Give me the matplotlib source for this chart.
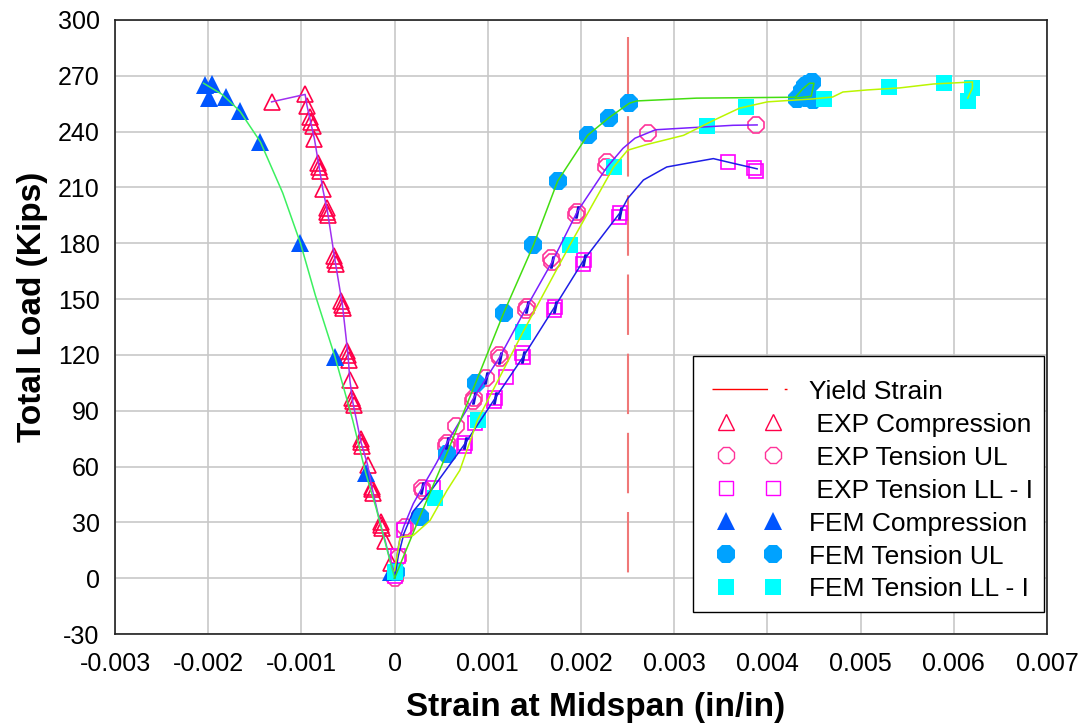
import matplotlib
matplotlib.use("Agg")
import matplotlib.pyplot as plt
from matplotlib.legend_handler import HandlerLine2D
from matplotlib.lines import Line2D

plt.rcParams['font.family'] = ['Liberation Sans', 'DejaVu Sans']
plt.rcParams['axes.unicode_minus'] = False

# ---------------- data (strain in/in, load kips) ----------------
# Experimental compression (markers + purple line in load order)
exp_comp_x = [0.0, -0.00004, -0.0001, -0.00015, -0.00024, -0.00029, -0.00036, -0.00045,
              -0.00048, -0.0005, -0.00056, -0.00064, -0.00072, -0.00077, -0.00081,
              -0.00086, -0.0009, -0.00094, -0.00096, -0.00132]
exp_comp_y = [3.3, 8, 20, 28.6, 48, 61, 73, 95, 106.5, 120, 147, 171, 197, 209, 221,
              236, 245, 254, 260, 256]
exp_comp_rep_x = [-0.00088, -0.00091, -0.00080, -0.00082, -0.00071, -0.00073, -0.00063,
                  -0.00065, -0.00055, -0.00057, -0.00049, -0.00051, -0.00044, -0.00046,
                  -0.00035, -0.00036, -0.00023, -0.00024, -0.00014, -0.00015]
exp_comp_rep_y = [243, 248, 219, 223, 195, 199, 169, 173, 145, 149, 117, 122, 93, 97,
                  71, 75, 46, 49, 27, 30]

# Experimental tension UL
exp_ul_x = [0.0, 0.00004, 0.00011, 0.00029, 0.00056, 0.00066, 0.00085, 0.00098, 0.00113,
            0.00142, 0.00169, 0.00196, 0.00228, 0.00272, 0.00388]
exp_ul_y = [0, 11, 27.5, 48.5, 72.6, 82, 96.8, 107.5, 118.4, 146, 170, 197, 223.7, 239, 243.6]
exp_ul_rep_x = [0.0003, 0.00055, 0.00084, 0.00112, 0.00141, 0.00168, 0.00195, 0.00227]
exp_ul_rep_y = [47, 71, 95, 120, 144, 172, 195, 221]
exp_ul_line_x = [0.0, 0.00003, 0.00006, 0.0001, 0.0002, 0.0003, 0.00045, 0.00056, 0.00085,
                 0.00113, 0.00142, 0.00169, 0.00196, 0.00228, 0.00245, 0.00258, 0.0028,
                 0.00314, 0.00363, 0.00389]
exp_ul_line_y = [0, 14, 22, 28, 40, 49, 62, 72.6, 97, 119, 146, 170, 197, 221, 231, 236.5,
                 241, 242, 243.4, 243.6]

# Experimental tension LL - I
exp_ll_x = [0.0, 0.00004, 0.0001, 0.00041, 0.00076, 0.00086, 0.00108, 0.0012, 0.00138,
            0.00172, 0.00203, 0.00242, 0.00358, 0.00386]
exp_ll_y = [1, 12, 26, 48.4, 72.6, 83.3, 96.8, 108, 119, 146, 171, 196.5, 223.6, 220.5]
exp_ll_rep_x = [0.00075, 0.00107, 0.00137, 0.00171, 0.00202, 0.00241, 0.00388]
exp_ll_rep_y = [71, 95, 121, 144, 169, 194, 219]
exp_ll_line_x = [0.0, 0.00004, 0.0001, 0.0002, 0.00041, 0.00076, 0.00108, 0.00138, 0.00172,
                 0.00203, 0.00242, 0.0025, 0.00267, 0.00292, 0.00314, 0.00342, 0.00358,
                 0.00389]
exp_ll_line_y = [0, 12, 24, 36, 48.4, 72.6, 96.8, 119, 146, 171, 196.5, 204, 214, 221, 223,
                 225.5, 223.6, 220]

# blue "I" marks on experimental tension points
exp_i_x = [0.00029, 0.00056, 0.00085, 0.00098, 0.00113, 0.00142, 0.00169, 0.00196,
           0.00076, 0.00108, 0.00138, 0.00172, 0.00203, 0.00242]
exp_i_y = [48.5, 72.6, 97, 107.5, 118.4, 146, 170, 197, 72.6, 96.8, 119, 146, 171, 196.5]

# FEM compression
fem_comp_x = [-0.00004, -0.00031, -0.00064, -0.00101, -0.00144, -0.00166, -0.00181,
              -0.00199, -0.00203, -0.00196]
fem_comp_y = [3.3, 56.5, 119, 180, 234.5, 251, 258.6, 258, 265, 265.5]
fem_comp_line_x = [0.0, -0.0002, -0.00031, -0.00045, -0.00064, -0.00085, -0.00101, -0.0012,
                   -0.00144, -0.00166, -0.00185, -0.00205]
fem_comp_line_y = [0, 38, 56.5, 85, 119, 152, 180, 207, 234.5, 251, 260, 266]

# FEM tension UL
fem_ul_x = [0.00001, 0.00027, 0.00056, 0.00087, 0.00117, 0.00149, 0.00175, 0.00207, 0.0023,
            0.00252, 0.00432, 0.00437, 0.0044, 0.00444, 0.00448, 0.00442, 0.00449]
fem_ul_y = [3.3, 33, 67, 105, 142.5, 179, 213.5, 238, 247.5, 255.3, 257.5, 262, 264.5,
            265.5, 266.5, 258, 257]
fem_ul_line_x = [0.0, 0.00027, 0.00056, 0.00087, 0.00117, 0.00149, 0.00175, 0.00207, 0.0023,
                 0.00252, 0.0026, 0.00324, 0.0043, 0.00438, 0.00445, 0.0045, 0.00447, 0.0043]
fem_ul_line_y = [0, 33, 67, 105, 142.5, 179, 213.5, 238, 247.5, 255.3, 256.5, 258, 258.5,
                 263, 266, 266, 259, 258]

# FEM tension LL - I
fem_ll_x = [0.0, 0.00043, 0.00089, 0.00138, 0.00188, 0.00235, 0.00335, 0.00377, 0.00461,
            0.0053, 0.0059, 0.0062, 0.00615]
fem_ll_y = [3.3, 43, 85, 132.5, 179, 221, 243, 253.5, 257.6, 264, 266, 263.5, 256.6]
fem_ll_line_x = [0.0, 0.00006, 0.0002, 0.00038, 0.00056, 0.0007, 0.00089, 0.00138, 0.00188,
                 0.00235, 0.0025, 0.0027, 0.0031, 0.00342, 0.0037, 0.004, 0.00449, 0.0047,
                 0.00481, 0.00507, 0.00542, 0.00578, 0.0062, 0.0062, 0.00615]
fem_ll_line_y = [4, 22, 23, 31, 47, 58, 85, 132.5, 179, 221, 230, 233, 238, 246, 252.6, 256,
                 257.6, 258.6, 261.3, 262.4, 263.5, 265.6, 266.7, 263.5, 258]

# Yield strain
yield_x = [0.0025, 0.0025]
yield_y = [291, 0]

x_ticks = [-0.003, -0.002, -0.001, 0, 0.001, 0.002, 0.003, 0.004, 0.005, 0.006, 0.007]
x_tick_labels = ['-0.003', '-0.002', '-0.001', '0', '0.001', '0.002', '0.003', '0.004',
                 '0.005', '0.006', '0.007']
y_ticks = [-30, 0, 30, 60, 90, 120, 150, 180, 210, 240, 270, 300]

# ---------------- colours ----------------
c_exp_comp = '#FF0048'
c_exp_ul = '#FF3399'
c_exp_ll = '#FF00FF'
c_fem_comp = '#0055FF'
c_fem_ul = '#00A2FF'
c_fem_ll = '#00FFFF'

fig = plt.figure(figsize=(10.88, 7.27), dpi=100)
ax = fig.add_axes([0.1057, 0.1279, 0.8566, 0.8446])

ax.set_xlim(-0.003, 0.007)
ax.set_ylim(-30, 300)
ax.set_xticks(x_ticks)
ax.set_xticklabels(x_tick_labels)
ax.set_yticks(y_ticks)
ax.grid(True, color='#C8C8C8', linewidth=1.2)
ax.set_axisbelow(True)
ax.tick_params(axis='both', length=0, labelsize=18)
ax.tick_params(axis='x', pad=13)
ax.tick_params(axis='y', pad=11)
for s in ax.spines.values():
    s.set_color('#202020')
    s.set_linewidth(1.2)

# yield strain
ax.plot(yield_x, yield_y, color='#F07878', lw=1.5, dashes=(29, 9), zorder=3)

mk_open = dict(linestyle='none', markerfacecolor='none', markeredgewidth=1.2, zorder=4)
# experimental markers
ax.plot(exp_comp_x, exp_comp_y, marker='^', ms=12, markeredgecolor=c_exp_comp, **mk_open)
ax.plot(exp_comp_rep_x, exp_comp_rep_y, marker='^', ms=12, markeredgecolor=c_exp_comp, **mk_open)
ax.plot(exp_ul_x, exp_ul_y, marker='8', ms=12, markeredgecolor=c_exp_ul, **mk_open)
ax.plot(exp_ul_rep_x, exp_ul_rep_y, marker='8', ms=12, markeredgecolor=c_exp_ul, **mk_open)
ax.plot(exp_ll_x, exp_ll_y, marker='s', ms=10, markeredgecolor=c_exp_ll, **mk_open)
ax.plot(exp_ll_rep_x, exp_ll_rep_y, marker='s', ms=10, markeredgecolor=c_exp_ll, **mk_open)
ax.plot(exp_i_x, exp_i_y, linestyle='none', marker='$I$', ms=8, color='#1010D0', zorder=5)

# FEM markers
ax.plot(fem_comp_x, fem_comp_y, linestyle='none', marker='^', ms=13, color=c_fem_comp,
        markeredgewidth=0, zorder=4)
ax.plot(fem_ul_x, fem_ul_y, linestyle='none', marker='8', ms=14, color=c_fem_ul,
        markeredgewidth=0, zorder=4)
ax.plot(fem_ll_x, fem_ll_y, linestyle='none', marker='s', ms=12, color=c_fem_ll,
        markeredgewidth=0, zorder=4)

# lines
ax.plot(exp_comp_x, exp_comp_y, color='#A030F0', lw=1.1, zorder=6)
ax.plot(exp_ul_line_x, exp_ul_line_y, color='#7A1FFF', lw=1.1, zorder=6)
ax.plot(exp_ll_line_x, exp_ll_line_y, color='#1E1EE6', lw=1.1, zorder=6)
ax.plot(fem_comp_line_x, fem_comp_line_y, color='#3CF060', lw=1.1, zorder=6)
ax.plot(fem_ul_line_x, fem_ul_line_y, color='#44DD11', lw=1.1, zorder=6)
ax.plot(fem_ll_line_x, fem_ll_line_y, color='#BBF500', lw=1.1, zorder=6)

ax.set_xlabel('Strain at Midspan (in/in)', fontsize=24, fontweight='bold')
ax.set_ylabel('Total Load (Kips)', fontsize=24, fontweight='bold')
ax.xaxis.set_label_coords(0.516, -0.0945)
ax.yaxis.set_label_coords(-0.072, 0.532)

# legend
h_yield = Line2D([], [], color='#FF0000', lw=1.0, dashes=(40, 12))
h1 = Line2D([], [], linestyle='none', marker='^', ms=12, markerfacecolor='none',
            markeredgecolor=c_exp_comp, markeredgewidth=1.0)
h2 = Line2D([], [], linestyle='none', marker='8', ms=12, markerfacecolor='none',
            markeredgecolor=c_exp_ul, markeredgewidth=1.0)
h3 = Line2D([], [], linestyle='none', marker='s', ms=10, markerfacecolor='none',
            markeredgecolor=c_exp_ll, markeredgewidth=1.0)
h4 = Line2D([], [], linestyle='none', marker='^', ms=13, color=c_fem_comp, markeredgewidth=0)
h5 = Line2D([], [], linestyle='none', marker='8', ms=14, color=c_fem_ul, markeredgewidth=0)
h6 = Line2D([], [], linestyle='none', marker='s', ms=12, color=c_fem_ll, markeredgewidth=0)
hm = HandlerLine2D(numpoints=2, marker_pad=0.83)
labels = ['Yield Strain', ' EXP Compression', ' EXP Tension UL', ' EXP Tension LL - I',
          'FEM Compression', 'FEM Tension UL', 'FEM Tension LL - I']
leg = ax.legend([h_yield, h1, h2, h3, h4, h5, h6], labels,
                handler_map={h1: hm, h2: hm, h3: hm, h4: hm, h5: hm, h6: hm},
                loc='lower right', bbox_to_anchor=(0.9968, 0.0358), borderaxespad=0,
                fontsize=19, handlelength=3.45, handletextpad=0.55, labelspacing=0.34,
                borderpad=0.4, fancybox=False, framealpha=1, edgecolor='black',
                numpoints=2, title=' ', title_fontsize=3)
leg.get_frame().set_linewidth(1.0)
leg.set_zorder(10)

fig.savefig('out.png', dpi=100)
